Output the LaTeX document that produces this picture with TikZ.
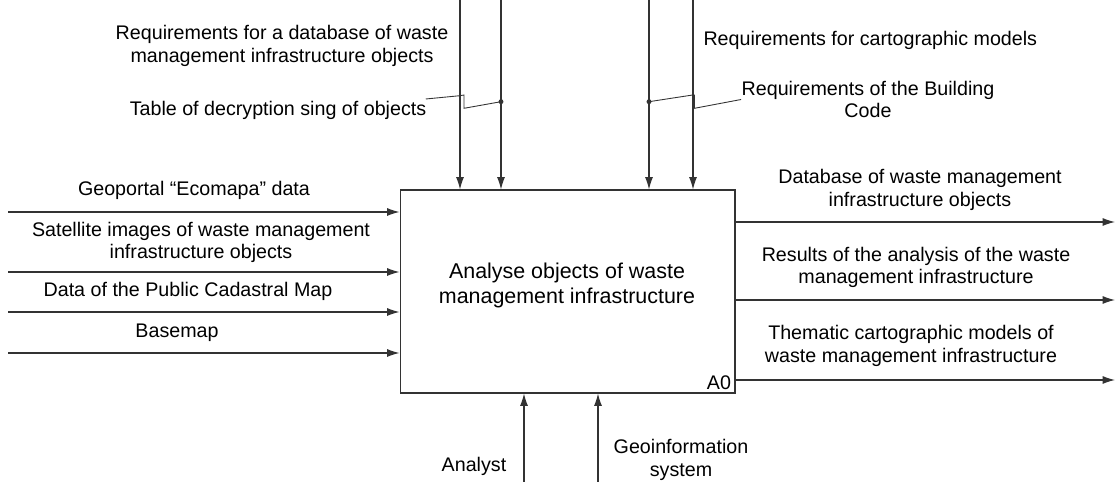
\documentclass[tikz,border=0pt]{standalone}
\usepackage{fontspec}
\setmainfont{Liberation Sans}
\usetikzlibrary{arrows.meta,calc,positioning}

\begin{document}
\begin{tikzpicture}[x=0.02cm, y=-0.02cm, line width=.6pt,
    arr/.style={draw=black!80,-{Latex[length=7pt,width=4.5pt]}},
    lbl/.style={align=center,inner sep=0pt,font=\fontsize{11.2}{12.8}\selectfont},
    fbox/.style={draw=black!80,minimum width=6.7cm,minimum height=4.06cm,inner sep=0pt},
    jog/.style={draw=black!80,line width=.5pt}]
\useasboundingbox (0,0) rectangle (1116,482);
\node[fbox] (fn) at (567.5,291.5) {};
\node[lbl,font=\fontsize{12.2}{14.2}\selectfont] (title) at (567,285) {Analyse objects of waste\\management infrastructure};
\node[lbl] (num) at (719,382.5) {A0};

\foreach \y/\n in {212/1,272/2,312/3,353/4}
    {\coordinate (in\n) at (8,\y);
     \draw[arr] (in\n) -- (in\n -| fn.west);}
\foreach \x/\n in {460/1,501/2,649/3,693/4}
    {\coordinate (ct\n) at (\x,0);
     \draw[arr] (ct\n) -- (ct\n |- fn.north);}
\foreach \y/\n in {222/1,300/2,380/3}
    {\coordinate (out\n) at (1115,\y);
     \draw[arr] (out\n -| fn.east) -- (out\n);}
\foreach \x/\n in {524/1,598/2}
    {\coordinate (mc\n) at (\x,482);
     \draw[arr] (mc\n) -- (mc\n |- fn.south);}

\node[lbl] (in1l) at (194,190) {Geoportal “Ecomapa” data};
\node[lbl] (in2l) at (201,242.5) {Satellite images of waste management\\infrastructure objects};
\node[lbl] (in3l) at (188,291.5) {Data of the Public Cadastral Map};
\node[lbl] (in4l) at (177,333) {Basemap};

\node[lbl] (ct1l) at (282,46) {Requirements for a database of waste\\management infrastructure objects};
\node[lbl] (ct2l) at (278,110) {Table of decryption sing of objects};
\node[lbl,anchor=west] (ct3l) at (703,40) {Requirements for cartographic models};
\node[lbl] (ct4l) at (868,99.5) {Requirements of the Building\\Code};

\node[lbl] (out1l) at (920,190) {Database of waste management\\infrastructure objects};
\node[lbl] (out2l) at (916,267.5) {Results of the analysis of the waste\\management infrastructure};
\node[lbl] (out3l) at (911,346) {Thematic cartographic models of\\waste management infrastructure};

\node[lbl] (mc1l) at (474,466.5) {Analyst};
\node[lbl] (mc2l) at (681,460) {Geoinformation\\system};

\coordinate (j2) at (501,101.7);
\coordinate (j3) at (649,101.7);
\fill[black!80] (j2) circle[radius=1.4pt] (j3) circle[radius=1.4pt];
\draw[jog] ($(ct2l.east)+(-1,-11)$) -- (460,95.7) -- (464,95) -- (464,108.3) -- (j2);
\draw[jog] (j3) -- (692.7,95) -- (694.5,95) -- (694.5,108.3) -- (ct4l.west);
\end{tikzpicture}
\end{document}
